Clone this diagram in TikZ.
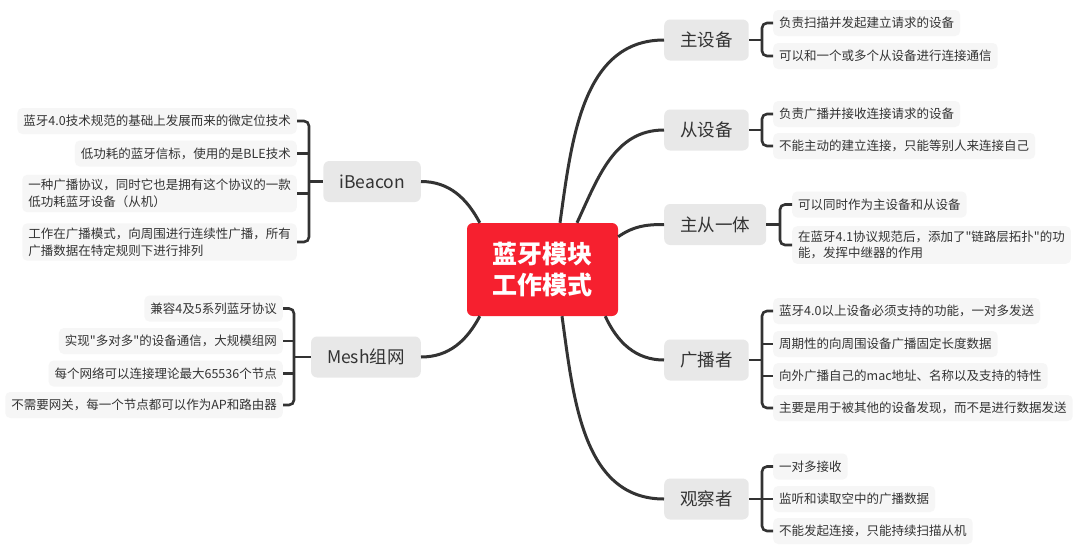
\documentclass[tikz,border=0pt]{standalone}
\usepackage{fontspec}
\setmainfont{Noto Sans CJK SC}
\newfontfamily\cjk{Noto Sans CJK SC}
\definecolor{txt}{HTML}{333333}
\definecolor{linec}{HTML}{333333}
\definecolor{mainfill}{HTML}{E8E8E8}
\definecolor{leaffill}{HTML}{F6F6F6}
\definecolor{redc}{RGB}{246,32,47}
\begin{document}
\begin{tikzpicture}[x=1pt,y=-1pt,
  mainbox/.style={fill=mainfill, rounded corners=6pt, inner xsep=16pt, inner ysep=0pt, minimum height=41pt, font=\cjk\fontsize{17.5}{20}\selectfont, text=txt},
  leafbox/.style={fill=leaffill, rounded corners=5pt, inner xsep=6pt, inner ysep=4.5pt, minimum height=26pt, font=\cjk\fontsize{12.5}{16.7}\selectfont, text=txt, align=left},
  centerbox/.style={fill=redc, rounded corners=6pt, minimum width=151pt, minimum height=93pt, font=\fontsize{25}{31}\selectfont\bfseries, text=white, align=center},
  conn/.style={draw=linec, line width=3pt},
  brk/.style={draw=linec, line width=2.6pt, rounded corners=5pt}]
\useasboundingbox (0,0) rectangle (1080,555);
\fill[white] (0,0) rectangle (1080,555);

% center
\node[centerbox] (c) at (542.5,269.5) {蓝牙模块\\工作模式};

% main nodes
\node[mainbox, anchor=west] (m1) at (664,40) {主设备};
\node[mainbox, anchor=west] (m2) at (664,130) {从设备};
\node[mainbox, anchor=west] (m3) at (664,224.5) {主从一体};
\node[mainbox, anchor=west] (m4) at (664,360) {广播者};
\node[mainbox, anchor=west] (m5) at (664,499) {观察者};
\node[mainbox, anchor=east] (ib) at (421,181.5) {iBeacon};
\node[mainbox, anchor=east] (me) at (421,357) {Mesh组网};

% leaves right
\node[leafbox, anchor=west] (a1) at (773,23) {负责扫描并发起建立请求的设备};
\node[leafbox, anchor=west] (a2) at (773,56) {可以和一个或多个从设备进行连接通信};
\node[leafbox, anchor=west] (b1) at (773,114) {负责广播并接收连接请求的设备};
\node[leafbox, anchor=west] (b2) at (773,146) {不能主动的建立连接，只能等别人来连接自己};
\node[leafbox, anchor=west] (c1) at (792,204.5) {可以同时作为主设备和从设备};
\node[leafbox, anchor=west] (c2) at (792,245) {在蓝牙4.1协议规范后，添加了"链路层拓扑"的功\\能，发挥中继器的作用};
\node[leafbox, anchor=west] (d1) at (773,311) {蓝牙4.0以上设备必须支持的功能，一对多发送};
\node[leafbox, anchor=west] (d2) at (773,344) {周期性的向周围设备广播固定长度数据};
\node[leafbox, anchor=west] (d3) at (773,376) {向外广播自己的mac地址、名称以及支持的特性};
\node[leafbox, anchor=west] (d4) at (773,408) {主要是用于被其他的设备发现，而不是进行数据发送};
\node[leafbox, anchor=west] (e1) at (773,466.5) {一对多接收};
\node[leafbox, anchor=west] (e2) at (773,499) {监听和读取空中的广播数据};
\node[leafbox, anchor=west] (e3) at (773,531) {不能发起连接，只能持续扫描从机};

% leaves left
\node[leafbox, anchor=east] (f1) at (297,121) {蓝牙4.0技术规范的基础上发展而来的微定位技术};
\node[leafbox, anchor=east] (f2) at (297,153.5) {低功耗的蓝牙信标，使用的是BLE技术};
\node[leafbox, anchor=east] (f3) at (297,193.5) {一种广播协议，同时它也是拥有这个协议的一款\\低功耗蓝牙设备（从机）};
\node[leafbox, anchor=east] (f4) at (297,242) {工作在广播模式，向周围进行连续性广播，所有\\广播数据在特定规则下进行排列};
\node[leafbox, anchor=east] (g1) at (283,308.5) {兼容4及5系列蓝牙协议};
\node[leafbox, anchor=east] (g2) at (283,341) {实现"多对多"的设备通信，大规模组网};
\node[leafbox, anchor=east] (g3) at (283,373.5) {每个网络可以连接理论最大65536个节点};
\node[leafbox, anchor=east] (g4) at (283,405) {不需要网关，每一个节点都可以作为AP和路由器};

% curves from center
\draw[conn] ([xshift=17.5pt]c.north) to[out=82,in=180] (m1.west);
\draw[conn] ([xshift=34.5pt]c.north) to[out=65,in=180] (m2.west);
\draw[conn] ([yshift=-14pt]c.north east) to[out=35,in=180] (m3.west);
\draw[conn] ([xshift=-13pt]c.south east) to[out=-65,in=180] (m4.west);
\draw[conn] ([xshift=19.5pt]c.south) to[out=-82,in=180] (m5.west);
\draw[conn] ([xshift=13pt]c.north west) to[out=118,in=0] (ib.east);
\draw[conn] ([xshift=13pt]c.south west) to[out=-118,in=0] (me.east);

% brackets
\coordinate (ka) at (762,40);
\draw[brk] (a1.west) -| (ka) |- (a2.west);
\draw[brk] (m1.east) -- (ka);
\coordinate (kb) at (762,130);
\draw[brk] (b1.west) -| (kb) |- (b2.west);
\draw[brk] (m2.east) -- (kb);
\coordinate (kc) at (780,224.5);
\draw[brk] (c1.west) -| (kc) |- (c2.west);
\draw[brk] (m3.east) -- (kc);
\coordinate (kd) at (762,360);
\draw[brk] (d1.west) -| (kd) |- (d4.west);
\draw[brk] (kd |- d2.west) -- (d2.west);
\draw[brk] (kd |- d3.west) -- (d3.west);
\draw[brk] (m4.east) -- (kd);
\coordinate (ke) at (762,499);
\draw[brk] (e1.west) -| (ke) |- (e3.west);
\draw[brk] (ke |- e2.west) -- (e2.west);
\draw[brk] (m5.east) -- (ke);
\coordinate (kf) at (309,181.5);
\draw[brk] (f1.east) -| (kf) |- (f4.east);
\draw[brk] (kf |- f2.east) -- (f2.east);
\draw[brk] (kf |- f3.east) -- (f3.east);
\draw[brk] (ib.west) -- (kf);
\coordinate (kg) at (294,357);
\draw[brk] (g1.east) -| (kg) |- (g4.east);
\draw[brk] (kg |- g2.east) -- (g2.east);
\draw[brk] (kg |- g3.east) -- (g3.east);
\draw[brk] (me.west) -- (kg);
\end{tikzpicture}
\end{document}
